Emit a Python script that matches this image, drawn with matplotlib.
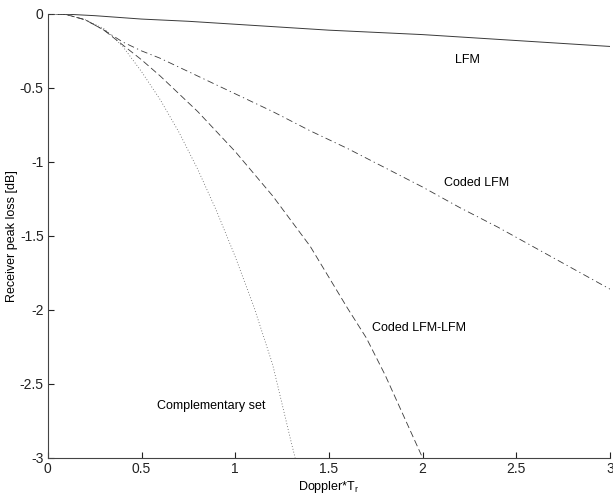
import matplotlib.pyplot as plt

plt.rcParams['font.family'] = ['Liberation Sans', 'DejaVu Sans']

# Doppler*Tr samples and peak loss [dB]
lfm_x = [0, 0.1, 0.25, 0.5, 0.75, 1.0, 1.25, 1.5, 1.75, 2.0, 2.25, 2.5, 2.75, 3.0]
lfm_y = [0, -0.002, -0.012, -0.035, -0.05, -0.07, -0.09, -0.11, -0.125, -0.14, -0.16, -0.18, -0.20, -0.22]

coded_x = [0, 0.1, 0.2, 0.3, 0.4, 0.5, 0.6, 0.8, 1.0, 1.2, 1.4, 1.6, 1.8, 2.0, 2.2, 2.4, 2.6, 2.8, 3.0]
coded_y = [0, -0.005, -0.04, -0.11, -0.19, -0.25, -0.30, -0.42, -0.54, -0.66, -0.79, -0.91,
           -1.04, -1.17, -1.31, -1.44, -1.58, -1.72, -1.86]

clfm_x = [0, 0.1, 0.2, 0.3, 0.4, 0.5, 0.6, 0.8, 1.0, 1.2, 1.4, 1.5, 1.6, 1.7, 1.8, 1.9, 2.0]
clfm_y = [0, -0.005, -0.04, -0.11, -0.21, -0.31, -0.42, -0.66, -0.93, -1.23, -1.57, -1.78,
          -1.99, -2.19, -2.44, -2.72, -3.0]

comp_x = [0, 0.1, 0.2, 0.3, 0.4, 0.5, 0.6, 0.7, 0.8, 0.9, 1.0, 1.1, 1.2, 1.3, 1.32]
comp_y = [0, -0.005, -0.04, -0.10, -0.22, -0.39, -0.58, -0.80, -1.05, -1.33, -1.64, -1.98,
          -2.37, -2.90, -3.0]

fig = plt.figure(figsize=(6.13, 4.96), dpi=100)
ax = fig.add_axes([0.078, 0.077, 0.917, 0.895])

ax.plot(lfm_x, lfm_y, color='#3a3a3a', lw=0.7, ls='-')
ax.plot(coded_x, coded_y, color='#3a3a3a', lw=0.6, ls=(0, (8, 4, 1.5, 4)))
ax.plot(clfm_x, clfm_y, color='#3a3a3a', lw=0.6, ls=(0, (8, 4)))
ax.plot(comp_x, comp_y, color='#5a5a5a', lw=0.6, ls=(0, (1, 2.5)))

ax.text(2.24, -0.31, 'LFM', ha='center', va='center', fontsize=9)
ax.text(2.29, -1.14, 'Coded LFM', ha='center', va='center', fontsize=9)
ax.text(1.98, -2.12, 'Coded LFM-LFM', ha='center', va='center', fontsize=9)
ax.text(0.87, -2.65, 'Complementary set', ha='center', va='center', fontsize=9)

ax.set_xlim(0, 3)
ax.set_ylim(-3, 0)
ax.set_xticks([0, 0.5, 1, 1.5, 2, 2.5, 3])
ax.set_xticklabels(['0', '0.5', '1', '1.5', '2', '2.5', '3'])
ax.set_yticks([-3, -2.5, -2, -1.5, -1, -0.5, 0])
ax.set_yticklabels(['-3', '-2.5', '-2', '-1.5', '-1', '-0.5', '0'])
ax.tick_params(direction='in', length=4, labelsize=10, colors='#222222', pad=3)
for s in ['top', 'right']:
    ax.spines[s].set_visible(False)
for s in ['left', 'bottom']:
    ax.spines[s].set_color('#444444')
    ax.spines[s].set_linewidth(0.8)

ax.set_xlabel('Doppler*T$_\\mathregular{r}$', fontsize=9, labelpad=2)
ax.set_ylabel('Receiver peak loss [dB]', fontsize=9, labelpad=1)

fig.savefig('out.png', dpi=100)
